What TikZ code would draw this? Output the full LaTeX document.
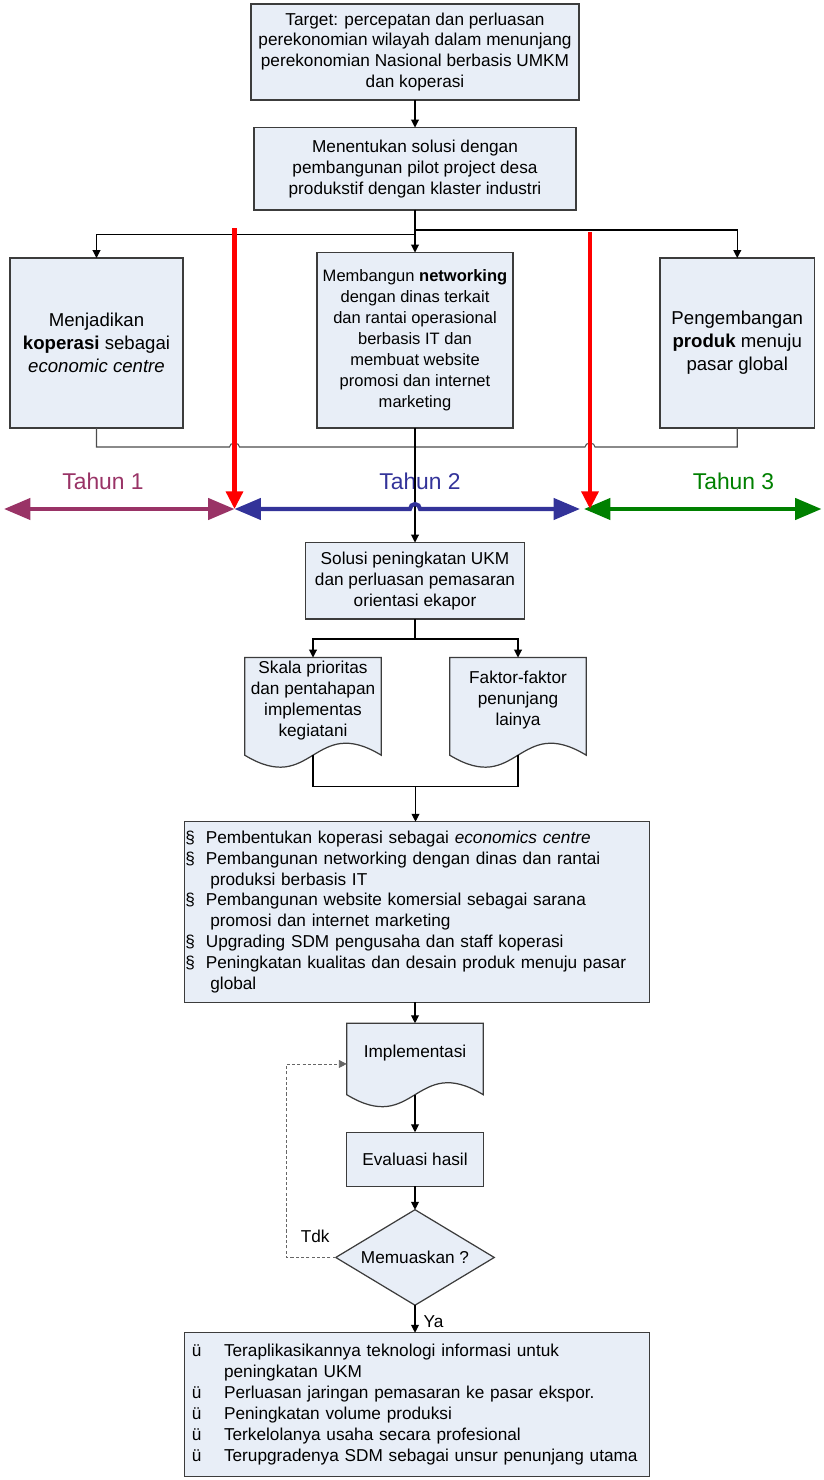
\documentclass[tikz,border=0pt]{standalone}
\usepackage{fontspec}
\setmainfont{Liberation Sans}
\usetikzlibrary{positioning, shapes.geometric, arrows.meta, calc, backgrounds}

\definecolor{boxfill}{RGB}{232,238,247}
\definecolor{boxline}{RGB}{60,60,60}
\definecolor{tahunA}{RGB}{153,51,102}
\definecolor{tahunB}{RGB}{51,51,153}
\definecolor{tahunC}{RGB}{0,128,0}

\newcommand{\normtext}{\fontsize{9.8}{11.9}\selectfont}
\newcommand{\bigtext}{\fontsize{10.6}{13}\selectfont}
\newcommand{\bul}{\makebox[0.412cm][l]{§}}
\newcommand{\cek}{\makebox[0.646cm][l]{ü}}
% document outline with wavy bottom
\newcommand{\docpath}[1]{%
  \filldraw[docline] (#1.north west) -- (#1.north east) -- ($(#1.south east)+(0,-0.24)$)
    .. controls ($(#1.south)+(0,0.59)$) and ($(#1.south)+(0,-1.07)$) .. ($(#1.south west)+(0,-0.24)$) -- cycle;
  \coordinate (#1-w) at ($(#1.south)+(0,-0.24)$);}

\tikzset{
  box/.style={draw=boxline, fill=boxfill, line width=0.7pt, align=center, font=\normtext, inner sep=0pt, outer sep=0pt},
  doc/.style={align=center, font=\normtext, inner sep=0pt, outer sep=0pt, minimum width=2.73cm, minimum height=1.714cm},
  docline/.style={draw=boxline, fill=boxfill, line width=0.7pt},
  conn/.style={->, line width=0.6pt},
  graylink/.style={line width=0.6pt, draw=black!70},
  backline/.style={->, line width=0.5pt, draw=black!60, dash pattern=on 1.8pt off 1.2pt},
  redline/.style={-{Triangle[length=10pt,width=9.5pt]}, line width=2.3pt, red},
  tahun/.style={{Triangle[length=15pt,width=12pt]}-{Triangle[length=15pt,width=12pt]}, line width=2.3pt},
  tlabel/.style={font=\fontsize{13}{15}\selectfont}
}

\begin{document}
\begin{tikzpicture}[>={Triangle[length=4.5pt,width=4.5pt]}]
        \useasboundingbox (0,0) rectangle (16.46,-29.6);
        \node[box, minimum width=6.56cm, minimum height=1.92cm] (target) at (8.30,-1.04) {Target: percepatan dan perluasan\\perekonomian wilayah dalam menunjang\\perekonomian Nasional berbasis UMKM\\dan koperasi};
        \node[box, minimum width=6.44cm, minimum height=1.65cm, below=0.55cm of target] (plan) {Menentukan solusi dengan\\pembangunan pilot project desa\\produkstif dengan klaster industri};
        \node[box, font=\fontsize{9.4}{11.9}\selectfont, minimum width=3.92cm, minimum height=3.51cm, below=0.85cm of plan] (networking) {Membangun \textbf{networking}\\dengan dinas terkait\\dan rantai operasional\\berbasis IT dan\\membuat website\\promosi dan internet\\marketing};
        \node[box, font=\bigtext, minimum width=3.46cm, minimum height=3.40cm, left=2.68cm of networking.south west, anchor=south east] (koperasi) {Menjadikan\\\textbf{koperasi} sebagai\\\textit{economic centre}};
        \node[box, font=\bigtext, minimum width=3.09cm, minimum height=3.40cm, right=2.94cm of networking.south east, anchor=south west] (produk) {Pengembangan\\\textbf{produk} menuju\\pasar global};

        \coordinate (r1a) at (4.69,-4.57);
        \coordinate (r1b) at (4.69,-10.18);
        \coordinate (r2a) at (11.80,-4.65);
        \coordinate (r2b) at (11.80,-10.18);
        \coordinate (t1a) at (0.08,-10.18);
        \coordinate (t2b) at (11.60,-10.18);
        \coordinate (t3a) at (11.68,-10.18);
        \coordinate (t3b) at (16.43,-10.18);
        \node[tlabel, text=tahunA] (lbl1) at (2.06,-9.63) {Tahun 1};
        \node[tlabel, text=tahunB] (lbl2) at (8.40,-9.63) {Tahun 2};
        \node[tlabel, text=tahunC] (lbl3) at (14.67,-9.63) {Tahun 3};

        \node[box, minimum width=4.37cm, minimum height=1.53cm, below=2.29cm of networking] (ukm) {Solusi peningkatan UKM\\dan perluasan pemasaran\\orientasi ekapor};
        \node[doc, below=0.77cm of ukm, xshift=-2.04cm] (skala) {Skala prioritas\\dan pentahapan\\implementas\\kegiatani};
        \node[doc, below=0.77cm of ukm, xshift=2.06cm] (faktor) {Faktor-faktor\\penunjang\\lainya};
        \begin{scope}[on background layer]
          \docpath{skala}
          \docpath{faktor}
        \end{scope}
        \coordinate (merge) at ($(skala-w)!0.5!(faktor-w)+(0,-0.63)$);

        \node[box, minimum width=9.30cm, minimum height=3.61cm, text width=9.27cm, align=left, below=0.70cm of merge, xshift=0.03cm] (program) {\bul Pembentukan koperasi sebagai \textit{economics centre}\\
          \bul Pembangunan networking dengan dinas dan rantai\\
          \hspace*{0.502cm}produksi berbasis IT\\
          \bul Pembangunan website komersial sebagai sarana\\
          \hspace*{0.502cm}promosi dan internet marketing\\
          \bul Upgrading SDM pengusaha dan staff koperasi\\
          \bul Peningkatan kualitas dan desain produk menuju pasar\\
          \hspace*{0.502cm}global};
        \node[doc, minimum height=1.19cm, below=0.42cm of program, xshift=-0.04cm] (impl) {Implementasi};
        \begin{scope}[on background layer]
          \docpath{impl}
        \end{scope}
        \node[box, minimum width=2.74cm, minimum height=1.08cm, below=0.99cm of impl] (eval) {Evaluasi hasil};
        \node[box, diamond, aspect=1.66, minimum width=3.17cm, minimum height=1.91cm, below=0.47cm of eval] (decide) {Memuaskan ?};
        \node[box, minimum width=9.29cm, minimum height=2.87cm, text width=9.01cm, align=left, below=0.55cm of decide, xshift=0.04cm] (hasil) {\cek Teraplikasikannya teknologi informasi untuk\\
          \hspace*{0.646cm}peningkatan UKM\\
          \cek Perluasan jaringan pemasaran ke pasar ekspor.\\
          \cek Peningkatan volume produksi\\
          \cek Terkelolanya usaha secara profesional\\
          \cek Terupgradenya SDM sebagai unsur penunjang utama};
        \node[font=\normtext, above left=0.17cm and 0cm of decide.west] (tdk) {Tdk};
        \node[font=\normtext, below right=0.08cm and 0.05cm of decide.south] (ya) {Ya};

        \draw[conn] (target) -- (plan);
        \draw[conn] (plan.south) -- ++(0,-0.49) -| (koperasi.north);
        \draw[conn] (plan) -- (networking);
        \draw[conn] (plan.south) -- ++(0,-0.40) -| (produk.north);
        \draw[graylink] (koperasi.south) -- ++(0,-0.38) coordinate (j1)
          -- ($(j1 -| r1a)+(-0.1,0)$) arc[start angle=180, end angle=0, x radius=0.1, y radius=0.08]
          -- ($(j1 -| r2a)+(-0.1,0)$) arc[start angle=180, end angle=0, x radius=0.1, y radius=0.08]
          -- (j1 -| produk.south) -- (produk.south);
        \draw[conn] (networking.south) -- (networking.south |- ukm.north);
        \draw[tahun, tahunA] (t1a) -- (r1b);
        \draw[tahun, tahunB] (r1b) -- ($(r1b -| networking.south)+(-0.1,0)$)
          arc[start angle=180, end angle=0, x radius=0.1, y radius=0.1] -- (t2b);
        \draw[tahun, tahunC] (t3a) -- (t3b);
        \draw[redline] (r1a) -- (r1b);
        \draw[redline] (r2a) -- (r2b);
        \draw[conn] (ukm.south) -- ++(0,-0.4) -| (skala.north);
        \draw[conn] (ukm.south) -- ++(0,-0.4) -| (faktor.north);
        \draw[line width=0.6pt] (skala-w) |- (merge) -| (faktor-w);
        \draw[conn] (merge) -- (merge |- program.north);
        \draw[conn] (program.south -| impl) -- (impl.north);
        \draw[conn] (impl-w) -- (eval);
        \draw[conn] (eval) -- (decide);
        \draw[conn] (decide) -- (decide.south |- hasil.north);
        \draw[backline] (decide.west) -- ++(-0.98,0) |- ($(impl.west)+(0,-0.22)$);
\end{tikzpicture}
\end{document}
